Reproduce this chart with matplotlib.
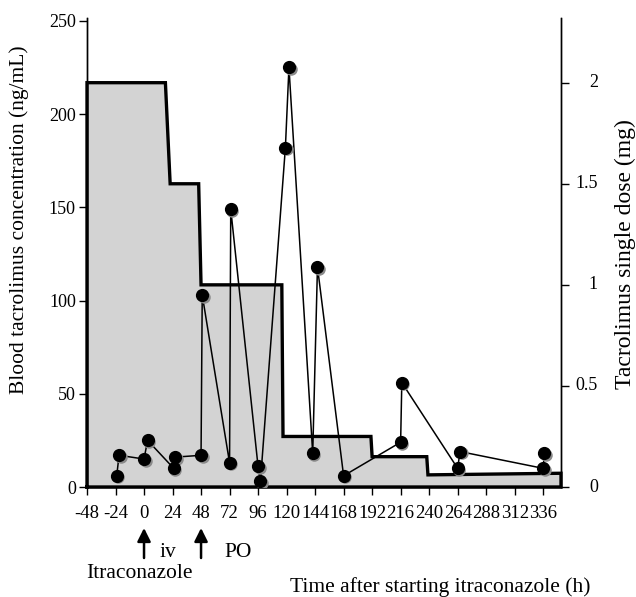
import matplotlib
matplotlib.use('Agg')
import matplotlib.pyplot as plt
import matplotlib.transforms as mtransforms

plt.rcParams['font.family'] = ['Liberation Serif', 'DejaVu Serif']

# Blood tacrolimus concentration (ng/mL), in order of connection
conc_time = [-23, -21, 0, 3, 25, 26, 48, 49, 72, 73, 96, 98, 119, 122, 142, 146, 168, 216, 217, 264, 266, 336, 337]
conc_val = [6, 17, 15, 25, 10, 16, 17, 103, 13, 149, 11, 3, 182, 225, 18, 118, 6, 24, 56, 10, 19, 10, 18]

# Tacrolimus single dose (mg), step outline
dose_time = [-48, -48, 18, 22, 46, 48, 116, 117, 191, 192, 238, 239, 351, 351]
dose_mg = [0, 2.0, 2.0, 1.5, 1.5, 1.0, 1.0, 0.25, 0.25, 0.15, 0.15, 0.06, 0.068, 0]

xticks = list(range(-48, 337, 24))
yticks_left = [0, 50, 100, 150, 200, 250]
yticks_right = [0, 0.5, 1, 1.5, 2]
yticklabels_right = ['0', '0.5', '1', '1.5', '2']

W, H = 636, 597
fig = plt.figure(figsize=(W / 100, H / 100), dpi=100)
x0, x1, y0, y1 = 87.0, 561.0, 18.0, 487.0
ax1 = fig.add_axes([x0 / W, 1 - y1 / H, (x1 - x0) / W, (y1 - y0) / H])
ax2 = ax1.twinx()

def fx(px):
    return px / W

def fy(py):
    return 1 - py / H

# dose polygon on right axis
ax2.fill(dose_time, dose_mg, facecolor='#d3d3d3', edgecolor='none', zorder=1)
ax2.plot(dose_time + [dose_time[0]], dose_mg + [dose_mg[0]], color='black', lw=2.4,
         solid_joinstyle='miter', clip_on=False, zorder=2)
ax2.set_ylim(0, 2.32)
ax2.set_yticks(yticks_right)
ax2.tick_params(axis='y', direction='out', length=6, width=1, labelright=False)
rtrans = mtransforms.blended_transform_factory(fig.transFigure, ax2.transData)
for v, s in zip(yticks_right, yticklabels_right):
    fig.text(fx(598), v, s, transform=rtrans, ha='right', va='center', fontsize=13)

# concentration on left axis (drawn on top)
ax1.set_zorder(ax2.get_zorder() + 1)
ax1.patch.set_visible(False)
ax1.plot(conc_time, conc_val, color='black', lw=1.1, zorder=3)
shadow = mtransforms.offset_copy(ax1.transData, fig=fig, x=1.2, y=-1.2, units='points')
ax1.plot(conc_time, conc_val, 'o', ms=9, color='#8a8a8a', mec='none', transform=shadow, zorder=4)
ax1.plot(conc_time, conc_val, 'o', ms=8.5, color='black', mec='black', zorder=5)

ax1.set_xlim(-48, 351)
ax1.set_ylim(0, 251.5)
ax1.set_xticks(xticks)
ax1.set_xticklabels([str(t) for t in xticks])
ax1.set_yticks(yticks_left)
ax1.tick_params(axis='x', direction='out', length=6, width=1, pad=7, labelsize=13.5)
ax1.tick_params(axis='y', direction='out', length=6, width=1, pad=2, labelsize=13)

for ax in (ax1, ax2):
    ax.spines['top'].set_visible(False)
    for s in ('left', 'right', 'bottom'):
        ax.spines[s].set_linewidth(1.0)

# arrows and annotations
trans = ax1.get_xaxis_transform()
def ay(py):
    return (y1 - py) / (y1 - y0)
for xa in (0, 48):
    ax1.annotate('', xy=(xa, ay(528)), xytext=(xa, ay(558)), xycoords=trans, textcoords=trans,
                 arrowprops=dict(arrowstyle='-|>', lw=1.8, color='black', mutation_scale=20,
                                 shrinkA=0, shrinkB=0), annotation_clip=False)
fig.text(fx(160), fy(557), 'iv', ha='left', va='baseline', fontsize=15.5)
fig.text(fx(224), fy(557), 'PO', ha='left', va='baseline', fontsize=15.5)
fig.text(fx(86), fy(578), 'Itraconazole', ha='left', va='baseline', fontsize=15.5)

fig.text(fx(19), fy(220), 'Blood tacrolimus concentration (ng/mL)', rotation=90,
         ha='center', va='center', fontsize=15.5)
fig.text(fx(625), fy(254), 'Tacrolimus single dose (mg)', rotation=90,
         ha='center', va='center', fontsize=17)
fig.text(fx(290), fy(592), 'Time after starting itraconazole (h)',
         ha='left', va='baseline', fontsize=15.5)

fig.savefig('out.png', dpi=100)
